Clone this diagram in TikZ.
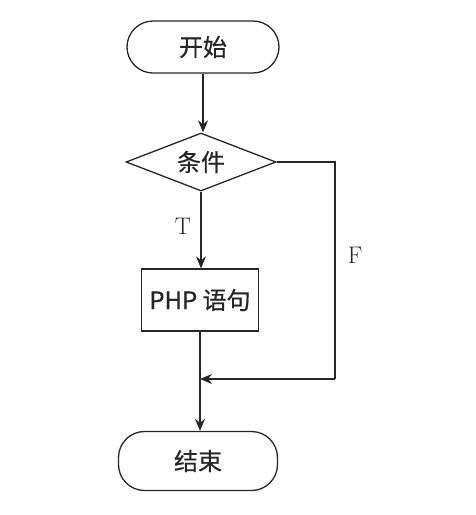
\documentclass[tikz,border=0pt]{standalone}
\usepackage{fontspec}
\newfontfamily\cjk[FakeBold=0.6]{Noto Sans CJK SC}
\usetikzlibrary{shapes.geometric,arrows.meta}
\definecolor{ink}{HTML}{262626}
\tikzset{
  base/.style={draw=ink, line width=1.3pt, text=ink, inner sep=0pt, font=\cjk\fontsize{24}{28}\selectfont},
  terminal/.style={base, rectangle, rounded corners=26pt},
  decision/.style={base, diamond, aspect=2.6},
  process/.style={base, rectangle},
  conn/.style={draw=ink, line width=1.3pt, -{Stealth[length=12pt,width=10pt]}},
  plain/.style={draw=ink, line width=1.3pt},
  lbl/.style={text=ink, font=\fontsize{24}{28}\selectfont}
}
\begin{document}
\begin{tikzpicture}[x=1pt,y=-1pt]
\useasboundingbox (0,0) rectangle (475,515);
\node[terminal, minimum width=152pt, minimum height=52pt] (start) at (203,47) {开始};
\node[decision, minimum width=150pt, minimum height=58pt] (dec) at (201,162) {条件};
\node[process, minimum width=117pt, minimum height=62pt] (proc) at (200,300) {PHP 语句};
\node[terminal, minimum width=159pt, minimum height=59pt] (end) at (198,461) {结束};
\coordinate (join) at (199,379);
\coordinate (rt) at (335,163);
\coordinate (rb) at (335,379);
\draw[conn] (start.south) -- (start.south |- dec.north);
\draw[conn] (dec.south) -- (dec.south |- proc.north) node[lbl, pos=0.45, left=6pt] (tl) {T};
\draw[plain] (proc.south) -- (proc.south |- join);
\draw[conn] (proc.south |- join) -- (proc.south |- end.north);
\draw[plain] (dec.east) -- (dec.east -| rt) -- (rb) node[lbl, pos=0.43, right=9pt] (fl) {F};
\draw[conn] (rb) -- (proc.south |- join);
\end{tikzpicture}
\end{document}
